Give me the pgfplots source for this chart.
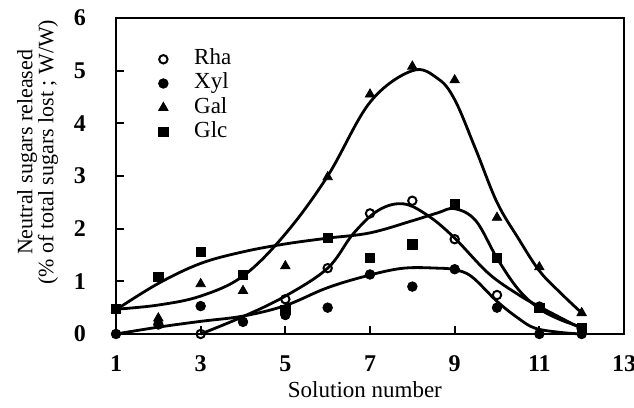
\documentclass[border=0pt]{standalone}
\usepackage{fontspec}
\setmainfont{Liberation Serif}
\usepackage{pgfplots}
\pgfplotsset{compat=1.18}
\usetikzlibrary{calc}

\begin{document}
\begin{tikzpicture}
\begin{axis}[
  name=ax,
  scale only axis, width=254pt, height=158pt,
  xmin=1, xmax=13, ymin=0, ymax=6,
  xtick={1,3,...,13}, ytick={0,1,...,6},
  tick pos=left, tick align=inside, major tick length=4pt,
  axis line style={line width=1pt},
  every tick/.style={line width=0.9pt, black},
  /pgf/number format/assume math mode=true,
  tick label style={font=\fontsize{12}{13}\selectfont\bfseries},
  xticklabel style={yshift=-7.5pt},
  yticklabel style={xshift=-11.5pt},
  xlabel={Solution number},
  xlabel style={at={(axis description cs:0.49,-0.2)}, anchor=base,
                font=\fontsize{11.5}{12}\selectfont},
  ylabel={Neutral sugars released\\(\% of total sugars lost ; W/W)},
  ylabel style={at={(axis description cs:-0.1,0.575)}, anchor=south,
                align=center, font=\fontsize{11}{10.5}\selectfont},
  clip=false,
  legend style={draw=none, fill=none, at={(axis description cs:0.083,0.907)},
                anchor=north west, font=\fontsize{11.5}{12}\selectfont,
                row sep=0.6pt, column sep=12.5pt, inner sep=0pt,
                nodes={inner sep=0.5pt, text height=8pt, text depth=2.5pt}},
  legend cell align=left,
  legend image code/.code={\draw[#1] plot coordinates {(0pt,0pt)};},
]
% fitted curves
\addplot[forget plot, black, line width=1.4pt, smooth, tension=0.6] coordinates {
  (1,0.47) (2,0.55) (3,0.72) (4,1.10) (5,1.90) (6,3.00) (7,4.40) (8,5.00)
  (8.6,4.85) (9,4.45) (9.5,3.50) (10,2.50) (10.5,1.82) (11,1.20) (11.5,0.78) (12,0.40)};
\addplot[forget plot, black, line width=1.4pt, smooth, tension=0.6] coordinates {
  (1,0.46) (2,0.96) (3,1.34) (4,1.56) (5,1.71) (6,1.82) (7,1.92) (8,2.15)
  (8.6,2.30) (9,2.38) (9.5,2.15) (10,1.44) (10.5,0.85) (11,0.48) (11.5,0.27) (12,0.13)};
\addplot[forget plot, black, line width=1.4pt, smooth, tension=0.6] coordinates {
  (3,0) (4,0.33) (5,0.72) (6,1.25) (6.6,1.90) (7.2,2.35) (7.8,2.47) (8.4,2.23)
  (9,1.82) (9.8,1.15) (10.5,0.75) (11,0.52) (12,0.10)};
\addplot[forget plot, black, line width=1.4pt, smooth, tension=0.6] coordinates {
  (1,0) (2,0.13) (3,0.24) (4,0.34) (5,0.54) (6,0.88) (7,1.12) (7.8,1.25)
  (8.6,1.25) (9,1.22) (9.4,1.09) (10,0.62) (10.5,0.30) (10.9,0.11) (11.5,0.03) (12,0)};

% measured values
\addplot[only marks, mark=o, mark size=2.1pt, mark options={line width=1pt, fill=white}] coordinates {
  (3,0) (5,0.66) (6,1.25) (7,2.29) (8,2.53) (9,1.80) (10,0.74) (11,0.52) (12,0.10)};
\addlegendentry{Rha}
\addplot[only marks, mark=*, mark size=2.4pt, black] coordinates {
  (1,0) (2,0.18) (3,0.53) (4,0.23) (5,0.36) (6,0.50) (7,1.13) (8,0.90) (9,1.23) (10,0.50) (11,0) (12,0)};
\addlegendentry{Xyl}
\addplot[only marks, mark=triangle*, mark size=2.7pt, black] coordinates {
  (1,0.47) (2,0.30) (3,0.95) (4,0.82) (5,1.29) (6,2.98) (7,4.55) (8,5.08) (9,4.82) (10,2.21) (11,1.27) (12,0.40)};
\addlegendentry{Gal}
\addplot[only marks, mark=square*, mark size=2.3pt, black] coordinates {
  (1,0.47) (2,1.08) (3,1.56) (4,1.12) (5,0.45) (6,1.82) (7,1.45) (8,1.70) (9,2.46) (10,1.45) (11,0.50) (12,0.11)};
\addlegendentry{Glc}

\coordinate (bl) at (rel axis cs:0,0);
\coordinate (tr) at (rel axis cs:1,1);
\end{axis}
\pgfresetboundingbox
\path ($(bl)+(-58pt,-37pt)$) rectangle ($(tr)+(5pt,9pt)$);
\end{tikzpicture}
\end{document}
